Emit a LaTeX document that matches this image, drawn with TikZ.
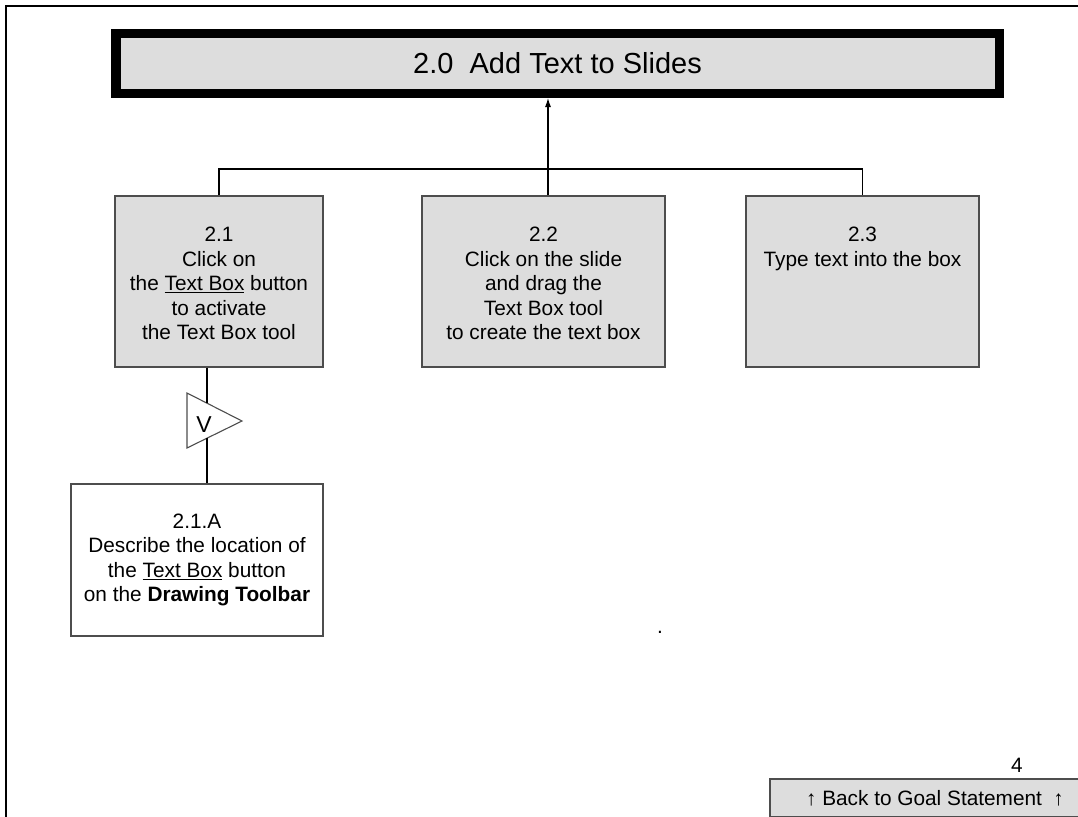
\documentclass[tikz,border=0pt]{standalone}
\usepackage{fontspec}
\setmainfont{Liberation Sans}
\usetikzlibrary{arrows.meta}
\definecolor{boxgray}{HTML}{DDDDDD}
\definecolor{edgegray}{HTML}{4D4D4D}
\begin{document}
\begin{tikzpicture}[x=1pt,y=-1pt,
  box/.style={draw=edgegray, line width=1.3pt, fill=boxgray, rectangle, inner sep=0pt},
  wbox/.style={draw=edgegray, line width=1.3pt, fill=white, rectangle, inner sep=0pt},
  txt/.style={align=center, inner sep=0pt, font=\fontsize{20.8}{24.5}\selectfont},
  conn/.style={draw=black, line width=1.1pt},
]
\useasboundingbox (0,0) rectangle (1078,816);
% page frame
\draw[line width=2.5pt] (6,817) -- (6,6) -- (1079,6);
% title
\node[draw=black, line width=9.5pt, fill=boxgray, inner sep=0pt,
      minimum width=883.5pt, minimum height=59.5pt,
      font=\fontsize{29}{33}\selectfont] (title) at (557.5,63.5) {2.0\ \ Add Text to Slides};
% sub boxes
\node[box, minimum width=208pt, minimum height=171pt] (b21) at (219,281.5) {};
\node[box, minimum width=243pt, minimum height=171pt] (b22) at (543.5,281.5) {};
\node[box, minimum width=233pt, minimum height=171pt] (b23) at (862.5,281.5) {};
\node[txt, anchor=north] (t21) at (219,227) {2.1\\Click on\\the \underline{Text Box} button\\to activate\\the Text Box tool};
\node[txt, anchor=north] (t22) at (543.5,227) {2.2\\Click on the slide\\and drag the\\Text Box tool\\to create the text box};
\node[txt, anchor=north] (t23) at (862.5,227) {2.3\\Type text into the box};
% connectors
\coordinate (bus) at (548,169);
\draw[conn] (b21.north) |- (bus) -| (b23.north);
\draw[conn, -{Latex[length=9pt,width=6pt]}] (b22.north -| bus) -- (title.south -| bus);
% triangle
\draw[draw=edgegray, line width=1.1pt] (187,393) -- (242,421) -- (187,448) -- cycle;
\node[inner sep=0pt, font=\fontsize{23}{26}\selectfont] (v) at (204,425) {V};
\coordinate (tt) at (207,403.2);
\coordinate (tb) at (207,438.2);
% 2.1.A
\node[wbox, txt, minimum width=252pt, minimum height=152pt] (b21a) at (197,560) {2.1.A\\Describe the location of\\the \underline{Text Box} button\\on the \textbf{Drawing Toolbar}};
\draw[conn] (b21.south -| tt) -- (tt);
\draw[conn] (tb) -- (b21a.north -| tb);
% stray dot
\node[txt] (dot) at (660,632) {.};
% page number and back button
\node[txt] (pnum) at (1017,765) {4};
\node[box, txt, minimum width=330pt, minimum height=38pt] (back) at (935,798) {↑ Back to Goal Statement\ \ ↑};
\end{tikzpicture}
\end{document}
